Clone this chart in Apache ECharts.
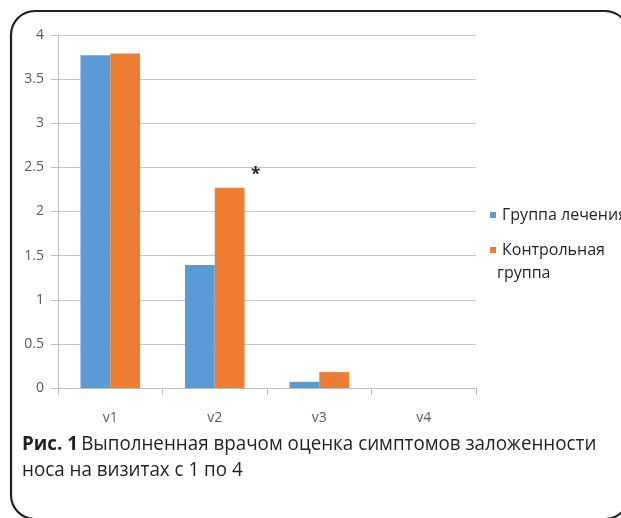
<!DOCTYPE html>
<html><head><meta charset="utf-8">
<script src="https://cdn.jsdelivr.net/npm/echarts@6/dist/echarts.min.js"></script>
<style>html,body{margin:0;padding:0;background:#fff}#c{width:621px;height:518px}</style>
</head><body><div id="c"></div>
<script>
const categories = ['v1', 'v2', 'v3', 'v4'];
const seriesNames = ['Группа лечения', 'Контрольная группа'];
const treatmentValues = [3.77, 1.395, 0.07, 0];
const controlValues = [3.79, 2.27, 0.18, 0];
const significantMarks = ['', '*', '', ''];
const yTicks = [0, 0.5, 1, 1.5, 2, 2.5, 3, 3.5, 4];

const chart = echarts.init(document.getElementById('c'));
const font = 'Open Sans';
chart.setOption({
  animation: false,
  backgroundColor: '#fff',
  grid: { left: 58, right: 145, top: 35, bottom: 130, containLabel: false },
  legend: {
    orient: 'vertical', left: 485, top: 200,
    itemWidth: 6, itemHeight: 6, itemGap: 15, icon: 'rect',
    data: seriesNames,
    formatter: n => n === 'Контрольная группа' ? 'Контрольная' : n,
    textStyle: { fontFamily: font, fontSize: 16, color: '#231f20', lineHeight: 20, padding: [0, 0, 0, 1] }
  },
  xAxis: {
    type: 'category', data: categories,
    axisLine: { lineStyle: { color: '#bfbfbf', width: 1 } },
    axisTick: { show: true, length: 7, lineStyle: { color: '#bfbfbf' } },
    axisLabel: { margin: 23, fontFamily: font, fontSize: 14, color: '#595959' }
  },
  yAxis: {
    type: 'value', min: 0, max: 4, interval: 0.5,
    axisLine: { show: true, lineStyle: { color: '#bfbfbf', width: 1 } },
    axisTick: { show: true, length: 7, lineStyle: { color: '#bfbfbf' } },
    splitLine: { lineStyle: { color: '#c4c4c4', width: 1 } },
    axisLabel: { margin: 14, fontFamily: font, fontSize: 14, color: '#595959',
      formatter: v => yTicks.includes(v) ? String(v) : '' }
  },
  series: [
    { name: seriesNames[0], type: 'bar', data: treatmentValues, barGap: '0%', barCategoryGap: '43%',
      itemStyle: { color: '#5b9bd5' } },
    { name: seriesNames[1], type: 'bar', data: controlValues.map((v, i) => ({
        value: v,
        label: significantMarks[i] ? { show: true, position: 'top', distance: 4, offset: [26, 0],
          formatter: significantMarks[i], fontSize: 17, fontWeight: 'bold', color: '#231f20', fontFamily: font } : { show: false }
      })),
      itemStyle: { color: '#ed7d31' } }
  ],
  graphic: [
    { type: 'rect', shape: { x: 11, y: 11, width: 618, height: 508, r: 24 },
      style: { fill: 'none', stroke: '#231f20', lineWidth: 2.2 }, silent: true },
    { type: 'text', x: 497, y: 273,
      style: { text: 'группа', fontFamily: font, fontSize: 16, fill: '#231f20', verticalAlign: 'middle' } },
    { type: 'text', x: 22, y: 432, scaleX: 0.94,
      style: {
        text: '{b|Рис. 1} {n|Выполненная врачом оценка симптомов заложенности}\n{n|носа на визитах с 1 по 4}',
        rich: {
          b: { fontFamily: font, fontSize: 20, fontWeight: 'bold', fill: '#231f20', lineHeight: 25.5 },
          n: { fontFamily: font, fontSize: 20, fill: '#231f20', lineHeight: 25.5 }
        }
      } }
  ]
});
</script></body></html>
